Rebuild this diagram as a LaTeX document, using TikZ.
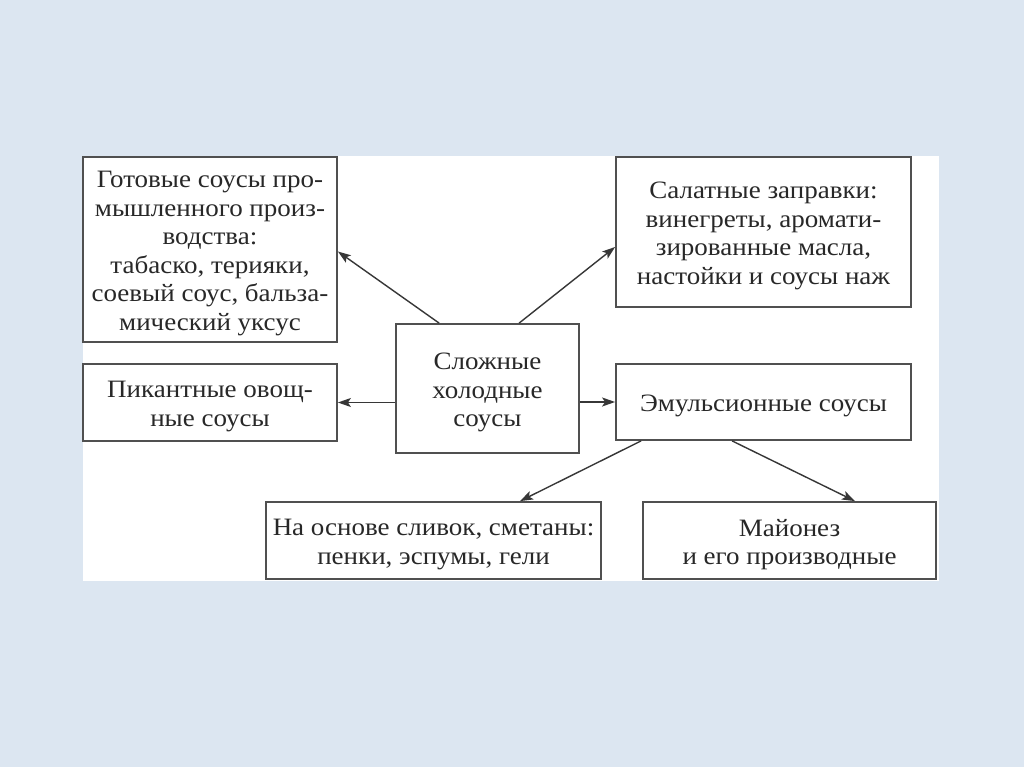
\documentclass[tikz,border=0pt]{standalone}
\usepackage{fontspec}
\setmainfont[FakeStretch=1.08]{Liberation Serif}
\usetikzlibrary{arrows.meta,calc}
\definecolor{bgblue}{RGB}{220,230,241}
\definecolor{boxline}{RGB}{80,80,80}
\definecolor{arrline}{RGB}{55,55,55}
\definecolor{txt}{RGB}{40,40,40}
\tikzset{
  box/.style={draw=boxline, line width=1.8pt, rectangle, inner sep=0pt},
  lbl/.style={align=center, inner sep=0pt, text=txt, yshift=-4pt,
    font=\fontsize{25}{28.5}\selectfont},
  conn/.style={draw=arrline, line width=1.4pt, -{Stealth[length=13pt,width=9pt,inset=3pt]}}
}
\begin{document}
\begin{tikzpicture}[x=1pt,y=-1pt]
\useasboundingbox (0,0) rectangle (1024,767);
\fill[bgblue] (0,0) rectangle (1024,767);
\fill[white] (83,156) rectangle (939,581);
\node[box, minimum width=254pt, minimum height=185pt,
  label={[lbl]center:Готовые соусы про-\\мышленного произ-\\водства:\\табаско, терияки,\\соевый соус, бальза-\\мический уксус}] (A) at (210,249.5) {};
\node[box, minimum width=295pt, minimum height=150pt,
  label={[lbl]center:Салатные заправки:\\винегреты, аромати-\\зированные масла,\\настойки и соусы наж}] (B) at (763.5,232) {};
\node[box, minimum width=183pt, minimum height=129pt,
  label={[lbl]center:Сложные\\холодные\\соусы}] (C) at (487.5,388.5) {};
\node[box, minimum width=254pt, minimum height=77pt,
  label={[lbl]center:Пикантные овощ-\\ные соусы}] (D) at (210,402.5) {};
\node[box, minimum width=295pt, minimum height=76pt,
  label={[lbl]center:Эмульсионные соусы}] (E) at (763.5,402) {};
\node[box, minimum width=335pt, minimum height=77pt,
  label={[lbl]center:На основе сливок, сметаны:\\пенки, эспумы, гели}] (F) at (433.5,540.5) {};
\node[box, minimum width=293pt, minimum height=77pt,
  label={[lbl]center:Майонез\\и его производные}] (G) at (789.5,540.5) {};
\draw[conn] ([xshift=44pt]C.north west) -- ([yshift=-2pt]A.east);
\draw[conn] ([xshift=124pt]C.north west) -- ([yshift=-15pt]B.west);
\draw[conn] (D.east -| C.west) -- (D.east);
\draw[conn] (E.west -| C.east) -- (E.west);
\draw[conn] ([xshift=26pt]E.south west) -- ([xshift=86.5pt]F.north);
\draw[conn] ([xshift=117pt]E.south west) -- ([xshift=65.5pt]G.north);
\end{tikzpicture}
\end{document}
